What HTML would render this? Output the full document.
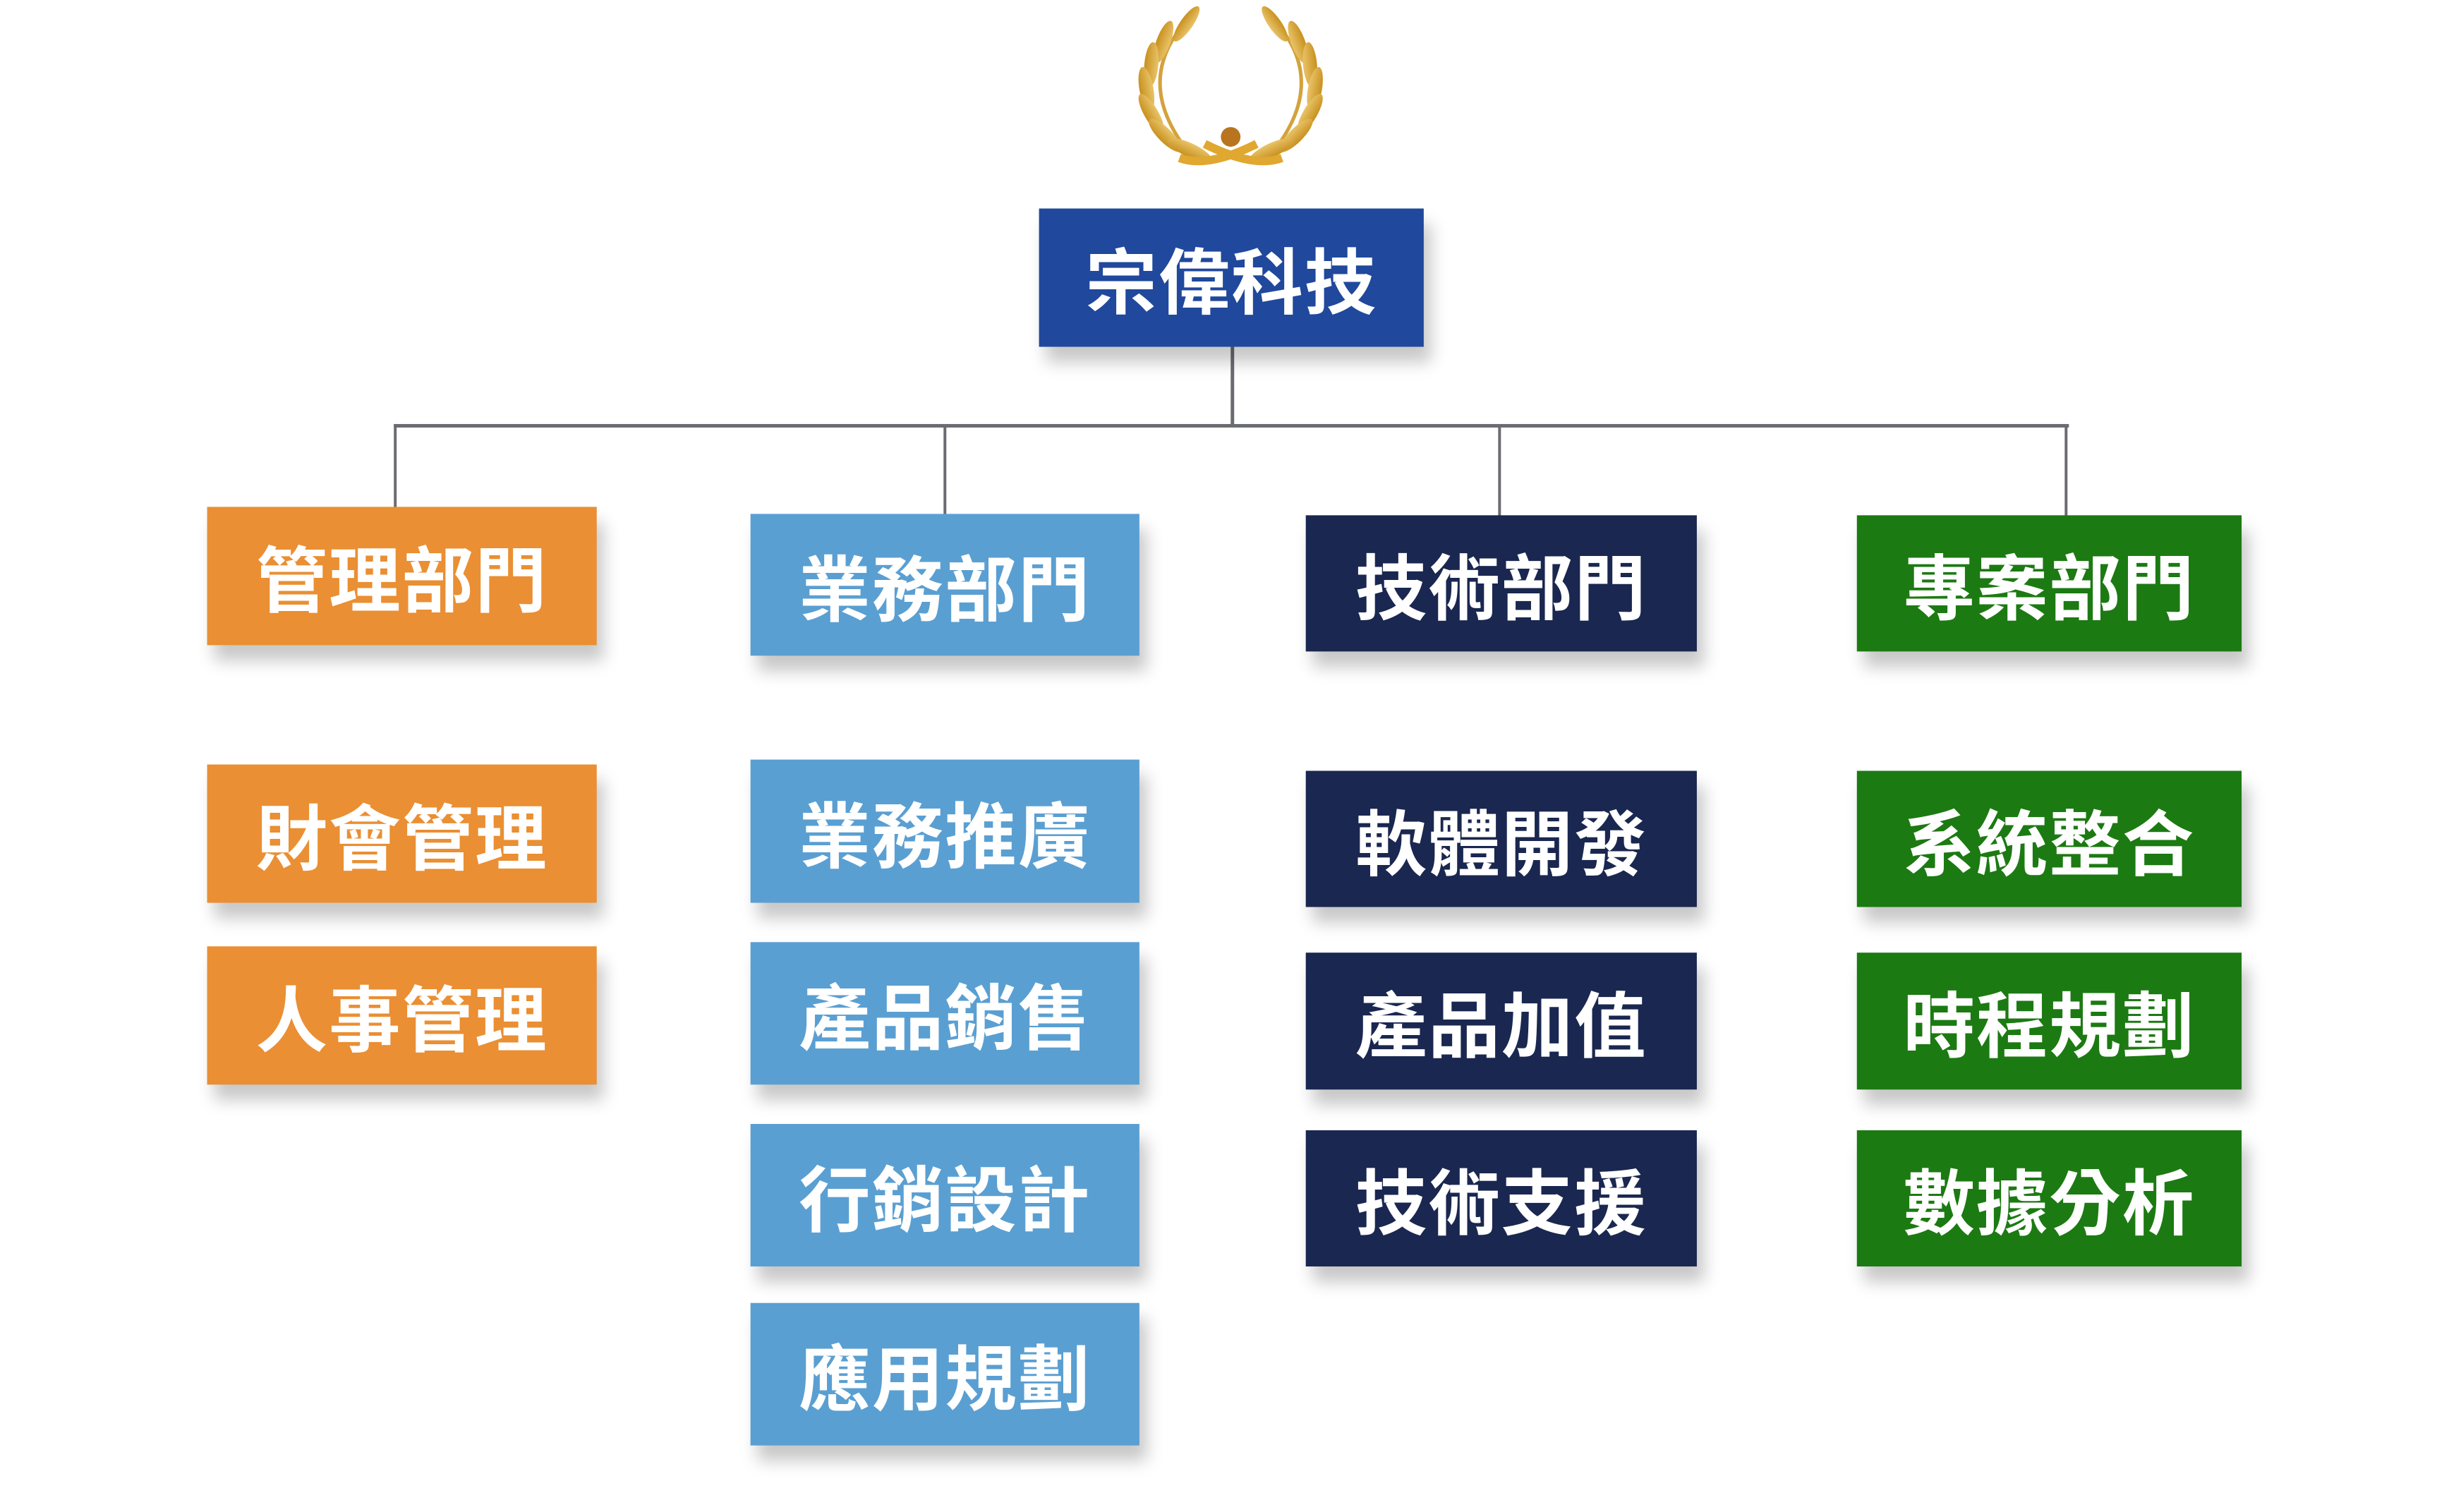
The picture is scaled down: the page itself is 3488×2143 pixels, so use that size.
<!DOCTYPE html>
<html><head><meta charset="utf-8"><style>
html,body{margin:0;padding:0;background:#fff;}
body{width:3488px;height:2143px;position:relative;overflow:hidden;font-family:"Liberation Sans","Noto Sans CJK TC",sans-serif;}
#w{position:absolute;left:0;top:0;width:3488px;height:2143px;transform:scale(0.995);transform-origin:0 0;}
.b{position:absolute;color:#fff;font-weight:bold;font-size:102px;display:flex;align-items:center;justify-content:center;letter-spacing:2px;box-shadow:10px 22px 22px rgba(0,0,0,0.22);}
.o{background:#EA8F33}.l{background:#5A9FD2}.n{background:#1A2750}.g{background:#1C7A12}
.ln{position:absolute;background:#6b6b72;}
</style></head><body><div id="w">
<svg style="position:absolute;left:0;top:0" width="3488" height="300">
<defs><linearGradient id="gd" x1="0" y1="0" x2="0" y2="1"><stop offset="0" stop-color="#E9C46A"/><stop offset="1" stop-color="#C8901E"/></linearGradient></defs>
<g id="lf" fill="url(#gd)">
<path d="M1690,30 Q1610,120 1700,225" stroke="#D4A23C" stroke-width="5" fill="none"/>
<ellipse cx="1690" cy="34" rx="30" ry="9" transform="rotate(125 1690 34)"/>
<ellipse cx="1657" cy="60" rx="32" ry="10" transform="rotate(110 1657 60)"/>
<ellipse cx="1640" cy="92" rx="32" ry="10" transform="rotate(95 1640 92)"/>
<ellipse cx="1633" cy="127" rx="32" ry="10" transform="rotate(80 1633 127)"/>
<ellipse cx="1640" cy="162" rx="32" ry="10" transform="rotate(60 1640 162)"/>
<ellipse cx="1660" cy="193" rx="32" ry="10" transform="rotate(45 1660 193)"/>
<ellipse cx="1695" cy="214" rx="34" ry="10" transform="rotate(25 1695 214)"/>
<path d="M1680,225 Q1720,240 1790,205" stroke="#E0A830" stroke-width="12" fill="none"/>
</g>
<use href="#lf" transform="translate(3506,0) scale(-1,1)"/>
<circle cx="1753" cy="195" r="14" fill="#B8741E"/>
</svg>
<div class="ln" style="left:1753px;top:494px;width:5px;height:114px"></div>
<div class="ln" style="left:561px;top:604px;width:2386px;height:5px"></div>
<div class="ln" style="left:561px;top:604px;width:4px;height:120px"></div>
<div class="ln" style="left:1344px;top:604px;width:4px;height:130px"></div>
<div class="ln" style="left:2134px;top:604px;width:4px;height:132px"></div>
<div class="ln" style="left:2941px;top:604px;width:4px;height:132px"></div>
<div class="b" style="left:1480px;top:297px;width:548px;height:197px;background:#20489C">宗偉科技</div>
<div class="b o" style="left:295px;top:722px;width:555px;height:197px">管理部門</div>
<div class="b l" style="left:1069px;top:732px;width:554px;height:202px">業務部門</div>
<div class="b n" style="left:1860px;top:734px;width:557px;height:194px">技術部門</div>
<div class="b g" style="left:2645px;top:734px;width:548px;height:194px">專案部門</div>
<div class="b o" style="left:295px;top:1089px;width:555px;height:197px">財會管理</div>
<div class="b o" style="left:295px;top:1348px;width:555px;height:197px">人事管理</div>
<div class="b l" style="left:1069px;top:1082px;width:554px;height:204px">業務推廣</div>
<div class="b l" style="left:1069px;top:1342px;width:554px;height:203px">產品銷售</div>
<div class="b l" style="left:1069px;top:1601px;width:554px;height:203px">行銷設計</div>
<div class="b l" style="left:1069px;top:1856px;width:554px;height:203px">應用規劃</div>
<div class="b n" style="left:1860px;top:1098px;width:557px;height:194px">軟體開發</div>
<div class="b n" style="left:1860px;top:1357px;width:557px;height:195px">產品加值</div>
<div class="b n" style="left:1860px;top:1610px;width:557px;height:194px">技術支援</div>
<div class="b g" style="left:2645px;top:1098px;width:548px;height:194px">系統整合</div>
<div class="b g" style="left:2645px;top:1357px;width:548px;height:195px">時程規劃</div>
<div class="b g" style="left:2645px;top:1610px;width:548px;height:194px">數據分析</div>
</div></body></html>
